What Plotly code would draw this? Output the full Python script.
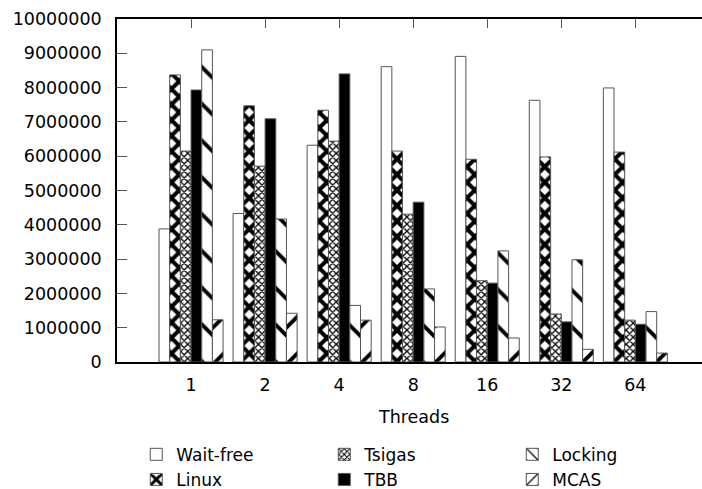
import plotly.graph_objects as go

threads = ["1", "2", "4", "8", "16", "32", "64"]
wait_free = [3.88e6, 4.33e6, 6.32e6, 8.61e6, 8.91e6, 7.63e6, 7.99e6]
linux = [8.37e6, 7.47e6, 7.34e6, 6.15e6, 5.91e6, 5.98e6, 6.12e6]
tsigas = [6.15e6, 5.71e6, 6.44e6, 4.31e6, 2.37e6, 1.40e6, 1.22e6]
tbb = [7.93e6, 7.09e6, 8.40e6, 4.66e6, 2.30e6, 1.17e6, 1.10e6]
locking = [9.10e6, 4.17e6, 1.65e6, 2.13e6, 3.24e6, 2.98e6, 1.47e6]
mcas = [1.23e6, 1.42e6, 1.22e6, 1.02e6, 0.70e6, 0.37e6, 0.26e6]

FONT = "DejaVu Sans"
FS = 17.5

def pat(shape, size, solidity):
    return dict(shape=shape, size=size, solidity=solidity, fgcolor="black",
                bgcolor="white", fgopacity=1)

series = [
    ("Wait-free", wait_free, dict(color="white"), 1),
    ("Linux", linux, dict(color="white", pattern=pat("x", 11, 0.6)), 4),
    ("Tsigas", tsigas, dict(color="white", pattern=pat("x", 5, 0.45)), 2),
    ("TBB", tbb, dict(color="black"), 5),
    ("Locking", locking, dict(color="white", pattern=pat("\\", 26, 0.15)), 3),
    ("MCAS", mcas, dict(color="white", pattern=pat("/", 26, 0.15)), 6),
]

fig = go.Figure()
for name, vals, marker, rank in series:
    m = dict(marker)
    m["line"] = dict(color="#555555", width=1)
    fig.add_trace(go.Bar(x=threads, y=vals, name=name, marker=m, legendrank=rank))

fig.update_layout(
    width=702, height=489,
    margin=dict(l=117, r=0, t=19, b=127, autoexpand=False),
    paper_bgcolor="white", plot_bgcolor="white",
    font=dict(family=FONT, size=FS, color="black"),
    barmode="group", bargap=0.135, bargroupgap=0,
    showlegend=True,
    legend=dict(
        orientation="h", x=0.515, xanchor="center", y=-0.218, yanchor="top",
        entrywidth=143, itemwidth=30, traceorder="normal", tracegroupgap=0,
        font=dict(family=FONT, size=17), bgcolor="rgba(0,0,0,0)",
    ),
)
fig.update_xaxes(
    type="category", range=[-1, 6.9],
    showline=True, linecolor="black", linewidth=1.5, mirror="ticks",
    ticks="inside", ticklen=9, tickcolor="#555555", tickwidth=1,
    ticklabelstandoff=6,
    showgrid=False, zeroline=False, layer="below traces",
)
fig.add_annotation(x=3, y=0, xref="x", yref="paper", yanchor="middle", yshift=-55,
                   text="Threads", showarrow=False, font=dict(family=FONT, size=FS))
fig.update_yaxes(
    range=[0, 10000000], dtick=1000000, tickformat="d",
    showline=True, linecolor="black", linewidth=1.5,
    ticks="inside", ticklen=10, tickcolor="#555555", tickwidth=1,
    ticklabelstandoff=10,
    showgrid=False, zeroline=False,
)
fig.write_html("out.html")
